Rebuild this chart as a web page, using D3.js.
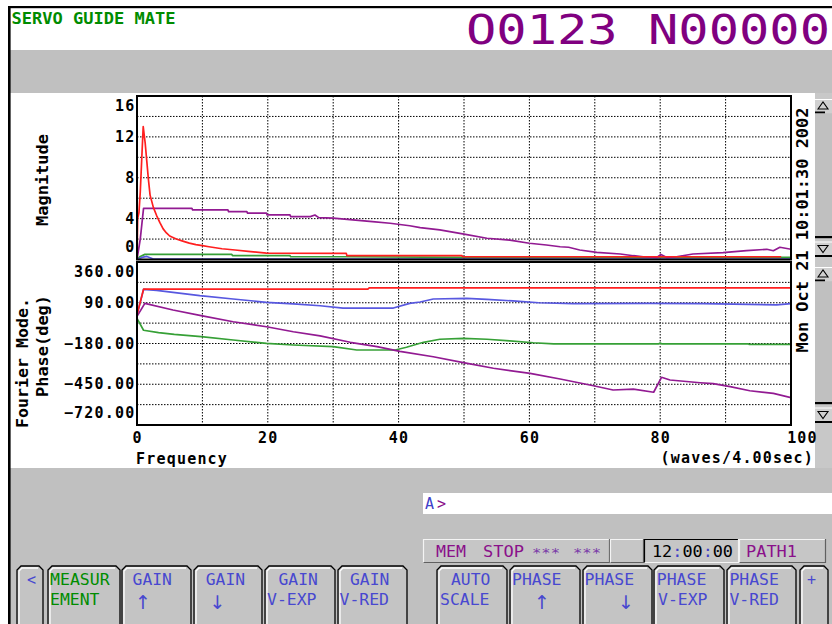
<!DOCTYPE html>
<html><head><meta charset="utf-8">
<script src="https://cdn.jsdelivr.net/npm/d3@7"></script>
<style>body{margin:0;background:#fff}svg{display:block}</style>
</head><body>
<svg id="c" width="832" height="624"></svg>
<script>
// ---------------- data ----------------
const freqTicks = [0, 20, 40, 60, 80, 100];
const magTicks = [0, 4, 8, 12, 16];
const phaseTicks = [360, 90, -180, -450, -720];
const freqGrid = [10, 20, 30, 40, 50, 60, 70, 80, 90];
const magGrid = [2, 4, 6, 8, 10, 12, 14];
const phaseGrid = [225, 90, -45, -180, -315, -450, -585];

// magnitude series: [frequency, magnitude]
const magRed = [[0,0],[0.1,4],[0.3,4.6],[0.5,6.6],[0.75,10.2],[0.95,13],[1.25,11.4],[1.5,9.6],[1.75,7.8],[2,6.3],[2.5,5.1],[3,4.3],[3.5,3.6],[4,3.0],[4.5,2.6],[5,2.3],[6,2.0],[7,1.8],[8,1.6],[9,1.45],[10,1.35],[11,1.25],[12,1.15],[13,1.05],[15,0.93],[17,0.8],[19.8,0.62],[32,0.6],[32.1,0.37],[49.7,0.37],[49.8,0.27],[98.5,0.27]];
const magPurple = [[0,0],[0.5,2],[1,5.0],[8.4,5.0],[8.5,4.85],[13.9,4.85],[14,4.69],[16.8,4.69],[16.9,4.53],[19.8,4.53],[19.9,4.36],[23.4,4.36],[23.5,4.2],[26.5,4.2],[27.2,4.35],[27.8,4.1],[30,4.04],[33,3.87],[36,3.7],[38.7,3.55],[41.7,3.3],[43.3,3.12],[46.3,2.9],[49.8,2.5],[53.5,2.08],[57,1.9],[60,1.59],[62.6,1.42],[64.7,1.25],[66,1.2],[67.7,0.93],[70.3,0.7],[73.9,0.54],[75.9,0.37],[77.4,0.27],[79.5,0.2],[80.1,0.5],[81,0.2],[82.5,0.27],[85,0.54],[89.6,0.67],[93.2,0.86],[96.3,1.0],[97.3,0.86],[98.3,1.2],[100,1.0]];
const magGreen = [[0,0],[0.5,0.3],[1.2,0.5],[14.5,0.5],[14.6,0.37],[23.4,0.37],[23.5,0.27],[32,0.27],[50,0.2],[100,0.2]];
const magBlue = [[0,0],[0.75,0.2],[1.5,0.3],[2.5,0.05],[100,0.05]];

// phase series: [frequency, degrees]
const phRed = [[0,10],[1,180],[35.3,180],[35.5,188],[100,188]];
const phBlue = [[0,10],[1,178],[3,172],[5.5,159],[9.6,137],[14.7,115],[19.8,93],[23.9,82],[28,70],[31.5,55],[39.2,55],[41.7,86],[43.3,95],[45.3,115],[50.4,119],[53.5,113],[57.5,102],[61.4,90],[66.7,84],[78.4,86],[86.6,84],[97.8,76],[100,84]];
const phGreen = [[0,-13],[1,-92],[3.3,-108],[5.7,-120],[9.8,-135],[14.7,-157],[19.8,-179],[23.9,-190],[30,-201],[33.6,-223],[39.5,-223],[41.2,-205],[43.8,-172],[46.3,-152],[49.9,-146],[53.5,-152],[57,-163],[60.6,-175],[63.7,-182],[79.8,-182],[80,-177],[80.2,-182],[93.5,-182],[93.6,-186],[100,-186]];
const phPurple = [[0,0],[1.2,86],[5.5,42],[9.8,5],[14.7,-36],[19.8,-69],[23.9,-102],[28,-130],[32.6,-172],[36.7,-201],[40.2,-232],[45.3,-268],[49.9,-307],[54.5,-344],[60.1,-378],[64.7,-415],[69.8,-460],[72.8,-488],[75.9,-482],[79,-503],[80.2,-404],[81.5,-422],[86.1,-440],[88.1,-446],[90.7,-466],[93.7,-493],[97.3,-510],[100,-539]];

// texts
const headerLeft = "SERVO GUIDE MATE";
const headerRight = "O0123 N00000";
const dateText = "Mon Oct 21 10:01:30 2002";
const keyLine1 = ["<","MEASUR","GAIN","GAIN","GAIN","GAIN","AUTO","PHASE","PHASE","PHASE","PHASE","+"];
const keyLine2 = ["","EMENT","↑","↓","V-EXP","V-RED","SCALE","↑","↓","V-EXP","V-RED",""];

// ---------------- drawing ----------------
const MONO = "'DejaVu Sans Mono', 'Liberation Mono', monospace";
const svg = d3.select("#c");
const GREY = "#c0c0c0";

function T(g, x, y, s, o = {}) {
  const t = g.append("text").attr("x", x).attr("y", y)
    .attr("dominant-baseline", "central")
    .attr("font-family", o.family || MONO).attr("font-size", o.size || 15)
    .attr("font-weight", o.bold ? "bold" : "normal")
    .attr("fill", o.fill || "#000")
    .attr("text-anchor", o.anchor || "start")
    .text(s);
  if (o.len) t.attr("textLength", o.len).attr("lengthAdjust", "spacingAndGlyphs");
  else t.attr("letter-spacing", o.ls !== undefined ? o.ls : 1.2);
  if (o.rot) t.attr("transform", `rotate(${o.rot},${x},${y})`);
  return t;
}

// frame / backgrounds
svg.append("rect").attr("width", 832).attr("height", 624).attr("fill", "#fff");
svg.append("rect").attr("x", 10).attr("y", 50).attr("width", 822).attr("height", 43).attr("fill", GREY);
svg.append("rect").attr("x", 10).attr("y", 468).attr("width", 822).attr("height", 156).attr("fill", GREY);
svg.append("rect").attr("x", 815).attr("y", 93).attr("width", 17).attr("height", 375).attr("fill", "#c8c8c8");
svg.append("rect").attr("x", 8).attr("y", 6).attr("width", 824).attr("height", 2.2).attr("fill", "#000");
svg.append("rect").attr("x", 8).attr("y", 6).attr("width", 2.6).attr("height", 618).attr("fill", "#000");

// header
T(svg, 11.5, 18.5, headerLeft, {fill: "#008c00", bold: true, len: 164});
T(svg, 466, 29.5, headerRight, {fill: "#800080", size: 41, len: 364});

// scales
const x = d3.scaleLinear().domain([0, 100]).range([137, 791]);
const yMag = d3.scaleLinear().domain([0, 16]).range([259.5, 96]);
const yPh = d3.scaleLinear().domain([-720, 360]).range([425, 262]);

function panel(y, gridVals, id, series, tickVals, fmt) {
  const [yb, yt] = y.range();
  const g = svg.append("g");
  g.append("clipPath").attr("id", id).append("rect")
    .attr("x", x(0)).attr("y", yt).attr("width", x(100) - x(0)).attr("height", yb - yt);
  g.selectAll(".vg").data(freqGrid).join("line")
    .attr("x1", d => x(d)).attr("x2", d => x(d)).attr("y1", yt).attr("y2", yb)
    .attr("stroke", "#000").attr("stroke-width", 1).attr("stroke-dasharray", "1.5,1.5");
  g.selectAll(".hg").data(gridVals).join("line")
    .attr("x1", x(0)).attr("x2", x(100)).attr("y1", d => y(d)).attr("y2", d => y(d))
    .attr("stroke", "#000").attr("stroke-width", 1).attr("stroke-dasharray", "1.5,1.5");
  const line = d3.line().x(d => x(d[0])).y(d => y(d[1]));
  const lg = g.append("g").attr("clip-path", `url(#${id})`);
  series.forEach(([data, col]) => {
    lg.append("path").attr("d", line(data)).attr("fill", "none")
      .attr("stroke", col).attr("stroke-width", 1.7).attr("stroke-linejoin", "round");
  });
  g.append("rect").attr("x", x(0)).attr("y", yt).attr("width", x(100) - x(0)).attr("height", yb - yt)
    .attr("fill", "none").attr("stroke", "#000").attr("stroke-width", 2);
  tickVals.forEach(v => {
    const yy = Math.max(yt + 9.5, Math.min(yb - 12.5, y(v)));
    T(g, 135.5, yy, fmt(v), {bold: true, anchor: "end"});
  });
}

const cRed = "#ff1f1f", cBlue = "#5858e0", cGreen = "#36a036", cPurple = "#921a92";
panel(yMag, magGrid, "clipMag",
  [[magGreen, cGreen], [magBlue, cBlue], [magPurple, cPurple], [magRed, cRed]],
  magTicks, d3.format("d"));
panel(yPh, phaseGrid, "clipPh",
  [[phGreen, cGreen], [phBlue, cBlue], [phPurple, cPurple], [phRed, cRed]],
  phaseTicks, d3.format(".2f"));

freqTicks.forEach((v, i) => {
  const last = i === freqTicks.length - 1;
  T(svg, last ? x(v) + 11.5 : x(v) + 0.5, 438, String(v), {bold: true, anchor: "middle"});
});
T(svg, 136, 459, "Frequency", {bold: true});
T(svg, 814, 458, "(waves/4.00sec)", {bold: true, anchor: "end"});

T(svg, 43, 180, "Magnitude", {bold: true, anchor: "middle", rot: -90, len: 92});
T(svg, 23, 363, "Fourier Mode.", {bold: true, anchor: "middle", rot: -90, len: 130});
T(svg, 43, 346, "Phase(deg)", {bold: true, anchor: "middle", rot: -90, len: 102});
T(svg, 803, 230, dateText, {bold: true, anchor: "middle", rot: -90, len: 245});

// scroll bars
function scroll(upTop, trackBot, downTop) {
  const g = svg.append("g");
  g.append("rect").attr("x", 815).attr("y", upTop).attr("width", 17).attr("height", 14).attr("fill", "#d0d0d0");
  g.append("line").attr("x1", 815).attr("x2", 832).attr("y1", upTop + 0.5).attr("y2", upTop + 0.5).attr("stroke", "#fff");
  g.append("path").attr("d", `M818,${upTop + 10}L823,${upTop + 3}L828,${upTop + 10}Z`).attr("fill", "none").attr("stroke", "#000").attr("stroke-width", 1.1);
  g.append("rect").attr("x", 815).attr("y", upTop + 12.5).attr("width", 10).attr("height", 2).attr("fill", "#000");
  g.append("rect").attr("x", 815).attr("y", upTop + 14.5).attr("width", 17).attr("height", trackBot - upTop - 14.5).attr("fill", GREY);
  g.append("rect").attr("x", 815).attr("y", trackBot - 2).attr("width", 17).attr("height", 2.2).attr("fill", "#000");
  g.append("rect").attr("x", 815).attr("y", downTop).attr("width", 17).attr("height", 15).attr("fill", "#d0d0d0");
  g.append("line").attr("x1", 815).attr("x2", 832).attr("y1", downTop + 0.5).attr("y2", downTop + 0.5).attr("stroke", "#fff");
  g.append("path").attr("d", `M818,${downTop + 4}L828,${downTop + 4}L823,${downTop + 11}Z`).attr("fill", "none").attr("stroke", "#000").attr("stroke-width", 1.1);
  g.append("rect").attr("x", 815).attr("y", downTop + 13.5).attr("width", 17).attr("height", 2).attr("fill", "#000");
}
scroll(99, 238, 241.5);
scroll(267, 404, 407.5);

// command line
svg.append("rect").attr("x", 423).attr("y", 493).attr("width", 409).attr("height", 21).attr("fill", "#fff");
T(svg, 425, 503.5, "A", {fill: "#4040c8"});
T(svg, 437, 503.5, ">", {fill: "#8a108a"});

// status bar
const sbY = 539, sbH = 24;
function box(x0, x1, sunken) {
  const g = svg.append("g");
  g.append("rect").attr("x", x0).attr("y", sbY).attr("width", x1 - x0).attr("height", sbH).attr("fill", "#c6c6c6");
  const tl = sunken ? "#000" : "#f4f4f4", br = sunken ? "#f4f4f4" : "#606060";
  g.append("path").attr("d", `M${x0 + 0.5},${sbY + sbH}V${sbY + 0.5}H${x1}`).attr("fill", "none").attr("stroke", tl).attr("stroke-width", 1.2);
  g.append("path").attr("d", `M${x0 + 0.5},${sbY + sbH - 0.5}H${x1 - 0.5}V${sbY}`).attr("fill", "none").attr("stroke", br).attr("stroke-width", 1.2);
}
box(423, 610, false);
box(610, 644, false);
box(644, 739, true);
box(739, 826, false);
const SP = "#8a108a";
T(svg, 436, 551.5, "MEM", {fill: SP, len: 30});
T(svg, 483, 551.5, "STOP", {fill: SP, len: 41});
T(svg, 532, 552.5, "***", {fill: "#7a3aa8", size: 12, len: 28});
T(svg, 573, 552.5, "***", {fill: "#7a3aa8", size: 12, len: 28});
const tt = T(svg, 652, 551.5, "", {len: 81});
["12", ":", "00", ":", "00"].forEach(p => tt.append("tspan").attr("fill", p === ":" ? "#4040c8" : "#000").text(p));
T(svg, 746, 551.5, "PATH1", {fill: SP, len: 51});

// soft keys
const keyBounds = [[17,43],[48,120],[122,191],[194,262],[265,335],[338,407],[437,507],[510,580],[583,652],[654,724],[727,796],[800,828]];
const keyText1 = [[32,"m"],[50,"s"],[132.6,"s"],[205.8,"s"],[278.5,"s"],[350,"s"],[451,"s"],[512,"s"],[584.6,"s"],[656.8,"s"],[729.4,"s"],[812,"m"]];
const keyText2 = [[0,"s"],[50,"s"],[143,"m"],[217.5,"m"],[267,"s"],[339.5,"s"],[440,"s"],[542,"m"],[626,"m"],[658,"s"],[729.4,"s"],[0,"s"]];
const kTop = 566;
keyBounds.forEach(([x0, x1], i) => {
  const g = svg.append("g");
  g.append("path").attr("d", `M${x0},630V${kTop + 4}L${x0 + 4},${kTop}H${x1 - 4}L${x1},${kTop + 4}V630Z`)
    .attr("fill", "#c4c4c4").attr("stroke", "#000").attr("stroke-width", 1.3);
  g.append("path").attr("d", `M${x0 + 2},630V${kTop + 5}L${x0 + 5},${kTop + 2}H${x1 - 5}`)
    .attr("fill", "none").attr("stroke", "#fff").attr("stroke-width", 1.3);
  const col = i === 1 ? "#008c00" : "#4848d0";
  const s1 = keyLine1[i], s2 = keyLine2[i];
  if (s1) {
    const [tx, m] = keyText1[i];
    T(g, tx, 579.5, s1, {fill: col, anchor: m === "m" ? "middle" : "start", len: m === "m" ? null : s1.length * 10.2 - 1.5});
  }
  if (s2) {
    const [tx, m] = keyText2[i];
    if (m === "m") T(g, tx, 602, s2, {fill: col, anchor: "middle", size: 19, ls: 0, family: "'DejaVu Sans', sans-serif"});
    else T(g, tx, 600, s2, {fill: col, len: s2.length * 10.2 - 1.5});
  }
});
</script>
</body></html>
